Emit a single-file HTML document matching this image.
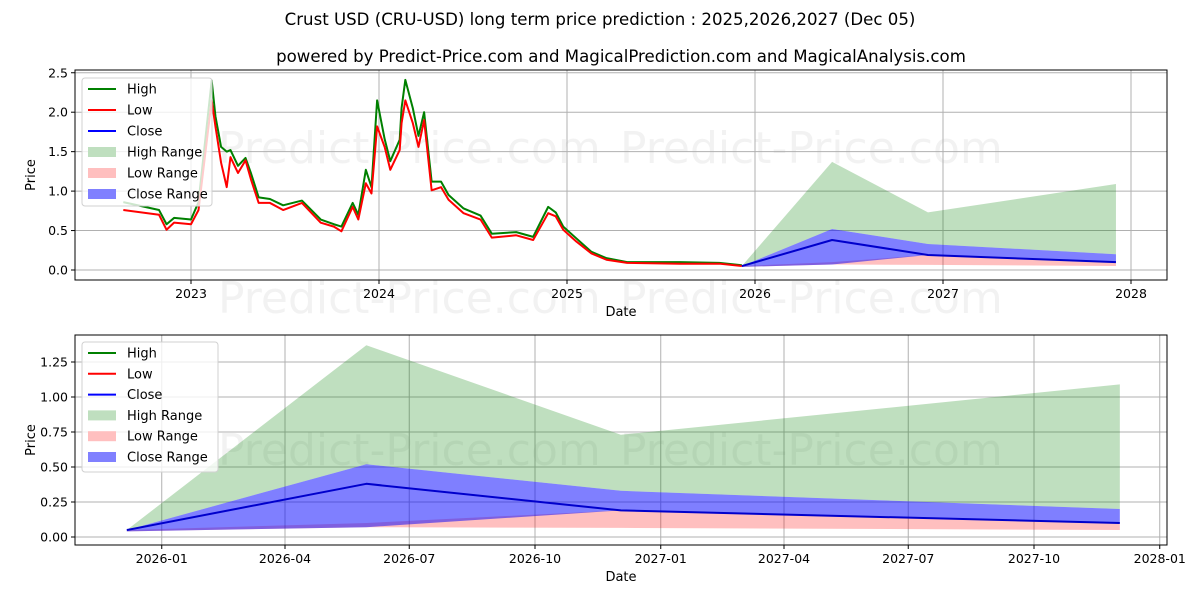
<!DOCTYPE html>
<html><head><meta charset="utf-8"><style>
body{margin:0;background:#fff;font-family:"Liberation Sans","DejaVu Sans",sans-serif}
svg text{font-family:"DejaVu Sans","Liberation Sans",sans-serif}
</style></head><body>
<svg id="c" width="1200" height="600" viewBox="0 0 1200 600">
<text x="600" y="25" text-anchor="middle" font-size="16.6">Crust USD (CRU-USD) long term price prediction : 2025,2026,2027 (Dec 05)</text>
<text x="621" y="62" text-anchor="middle" font-size="16.6">powered by Predict-Price.com and MagicalPrediction.com and MagicalAnalysis.com</text>
</svg>
<script>
// historical data (decimal years)
const histDates=[2022.64,2022.83,2022.87,2022.91,2023.00,2023.04,2023.11,2023.13,2023.16,2023.19,2023.21,2023.25,2023.29,2023.32,2023.36,2023.42,2023.49,2023.59,2023.69,2023.76,2023.80,2023.86,2023.89,2023.93,2023.96,2023.99,2024.03,2024.06,2024.11,2024.12,2024.14,2024.18,2024.21,2024.24,2024.28,2024.33,2024.37,2024.45,2024.54,2024.60,2024.73,2024.82,2024.90,2024.94,2024.98,2025.05,2025.13,2025.21,2025.32,2025.60,2025.81,2025.93];
const histHigh=[0.86,0.76,0.58,0.66,0.64,0.86,2.40,1.95,1.56,1.50,1.52,1.32,1.42,1.22,0.92,0.90,0.82,0.88,0.64,0.58,0.55,0.85,0.70,1.27,1.05,2.15,1.66,1.38,1.65,2.05,2.41,2.05,1.70,2.00,1.12,1.12,0.95,0.78,0.69,0.46,0.48,0.42,0.80,0.73,0.55,0.40,0.23,0.15,0.10,0.10,0.09,0.06];
const histLow=[0.76,0.70,0.51,0.60,0.58,0.76,2.15,1.82,1.36,1.05,1.43,1.23,1.39,1.14,0.85,0.85,0.76,0.85,0.60,0.55,0.49,0.80,0.64,1.10,0.97,1.82,1.56,1.27,1.52,1.86,2.15,1.86,1.56,1.90,1.01,1.05,0.89,0.72,0.64,0.41,0.44,0.38,0.72,0.68,0.51,0.36,0.21,0.13,0.09,0.08,0.08,0.05];
// forecast
const fDates=[2025.93,2026.41,2026.92,2027.92];
const highUpper=[0.05,1.37,0.73,1.09];
const highLower=[0.05,0.52,0.33,0.20];
const lowUpper=[0.05,0.10,0.19,0.10];
const lowLower=[0.04,0.07,0.065,0.05];
const closeUpper=[0.05,0.52,0.33,0.20];
const closeLower=[0.04,0.07,0.19,0.10];
const closeVals=[0.05,0.38,0.19,0.10];
const topYTicks=[0,0.5,1.0,1.5,2.0,2.5];
const topXTicks=[2023,2024,2025,2026,2027,2028];
const botYTicks=[0,0.25,0.5,0.75,1.0,1.25];
const botXTicks=[[2026.0,'2026-01'],[2026.247,'2026-04'],[2026.496,'2026-07'],[2026.748,'2026-10'],[2027.0,'2027-01'],[2027.247,'2027-04'],[2027.496,'2027-07'],[2027.748,'2027-10'],[2028.0,'2028-01']];

const svg=document.getElementById('c');const NS='http://www.w3.org/2000/svg';
function mk(tag,attrs,parent){const e=document.createElementNS(NS,tag);for(const k in attrs)e.setAttribute(k,attrs[k]);(parent||svg).appendChild(e);return e;}

function drawPanel(P){
  const g=mk('g',{});
  
  
  const X=P.x,Y=P.y;
  P.wm.forEach(w=>{const t=mk('text',{x:w[0],y:w[1],'font-size':44,fill:'#000','fill-opacity':0.05},g);t.textContent='Predict-Price.com';
    
    });
  P.yt.forEach(v=>{const yy=Y(v);mk('line',{x1:P.l,x2:P.r,y1:yy,y2:yy,stroke:'#b0b0b0','stroke-width':1},g);
    mk('line',{x1:P.l-4,x2:P.l,y1:yy,y2:yy,stroke:'#000'},g);
    const t=mk('text',{x:P.l-7,y:yy+4.5,'text-anchor':'end','font-size':12.5},g);t.textContent=P.yf(v);
    
    });
  P.xt.forEach(v=>{const xx=X(v[0]);mk('line',{x1:xx,x2:xx,y1:P.t,y2:P.b,stroke:'#b0b0b0'},g);
    mk('line',{x1:xx,x2:xx,y1:P.b,y2:P.b+4,stroke:'#000'},g);
    const t=mk('text',{x:xx,y:P.b+18,'text-anchor':'middle','font-size':12.5},g);t.textContent=v[1];
    
    });
  const band=(up,lo,fill,op,nm)=>{let d='';fDates.forEach((dt,i)=>{d+=(i?'L':'M')+X(dt)+','+Y(up[i]);});
    for(let i=fDates.length-1;i>=0;i--)d+='L'+X(fDates[i])+','+Y(lo[i]);
    const p=mk('path',{d:d+'Z',fill:fill,'fill-opacity':op},g);
    
    };
  const line=(xs,ys,col,nm)=>{const d=xs.map((dt,i)=>(i?'L':'M')+X(dt)+','+Y(ys[i])).join('');
    const p=mk('path',{d:d,fill:'none',stroke:col,'stroke-width':2,'stroke-linejoin':'round'},g);
    
    };
  band(highUpper,highLower,'#008000',0.25,'high-range-band');
  band(lowUpper,lowLower,'#ff0000',0.25,'low-range-band');
  band(closeUpper,closeLower,'#0000ff',0.5,'close-range-band');
  if(P.hist){line(histDates,histHigh,'#008000','high-line');line(histDates,histLow,'#ff0000','low-line');}
  line(fDates,closeVals,'#0000cc','close-line');
  mk('rect',{x:P.l,y:P.t,width:P.r-P.l,height:P.b-P.t,fill:'none',stroke:'#000','stroke-width':1},g);
  const xl=mk('text',{x:(P.l+P.r)/2,y:P.b+36,'text-anchor':'middle','font-size':13},g);xl.textContent='Date';
  
  
  const yl=mk('text',{x:0,y:0,'text-anchor':'middle','font-size':13,transform:`translate(${P.l-40},${(P.t+P.b)/2}) rotate(-90)`},g);yl.textContent='Price';
  
  
  const L=P.leg;const lg=mk('g',{},g);
  
  
  mk('rect',{x:L.x,y:L.y,width:L.w,height:L.h,rx:3,fill:'#fff','fill-opacity':0.8,stroke:'#d0d0d0'},lg);
  const items=[['High','#008000','l'],['Low','#ff0000','l'],['Close','#0000ff','l'],['High Range','#bfdfbf','r'],['Low Range','#ffbfbf','r'],['Close Range','#8080ff','r']];
  items.forEach((it,i)=>{const yy=L.y+11+i*L.s;
    if(it[2]=='l')mk('line',{x1:L.x+6,x2:L.x+34,y1:yy,y2:yy,stroke:it[1],'stroke-width':2},lg);
    else mk('rect',{x:L.x+6,y:yy-5,width:28,height:10,fill:it[1]},lg);
    const t=mk('text',{x:L.x+45,y:yy+4.5,'font-size':13},lg);t.textContent=it[0];
    
    });
}
drawPanel({name:'history-panel',l:75,r:1167,t:70,b:280,hist:true,
  x:v=>191+(v-2023)*188,y:v=>270-v*78.9,
  yt:topYTicks,yf:v=>v.toFixed(1),xt:topXTicks.map(v=>[v,String(v)]),
  wm:[[218,163],[620,163],[218,313],[620,313]],
  leg:{x:82,y:78,w:130,h:128,s:21}});
drawPanel({name:'forecast-panel',l:75,r:1167,t:335,b:545,hist:false,
  x:v=>285+(v-2026.247)*499,y:v=>537-v*140,
  yt:botYTicks,yf:v=>v.toFixed(2),xt:botXTicks,
  wm:[[218,465],[620,465]],
  leg:{x:82,y:342,w:136,h:130,s:20.8}});
</script>
</body></html>
